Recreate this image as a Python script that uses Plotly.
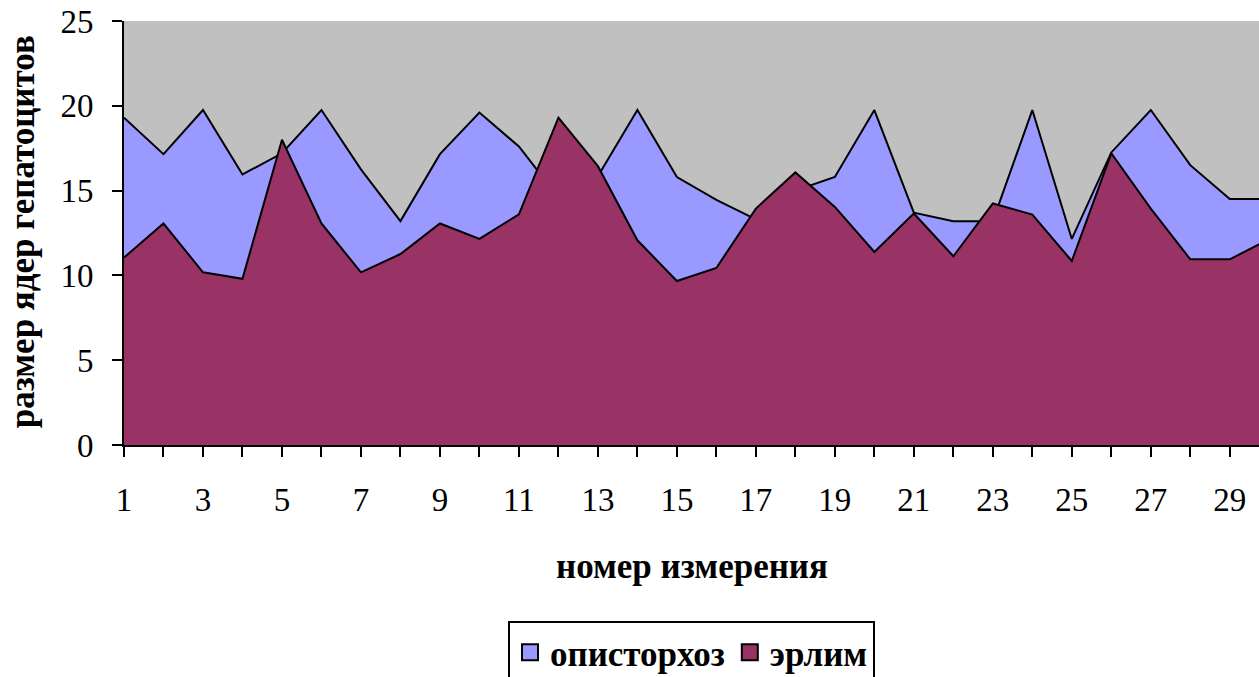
import plotly.graph_objects as go

# Measurement number (1..30) and nucleus size for the two groups
measurement = list(range(1, 31))
opisthorchiasis = [19.3, 17.15, 19.75, 15.95, 17.2, 19.75, 16.25, 13.2, 17.15, 19.6,
                   17.6, 14.6, 15.85, 19.75, 15.8, 14.45, 13.3, 15.0, 15.8, 19.75,
                   13.7, 13.2, 13.2, 19.75, 12.15, 17.25, 19.75, 16.5, 14.5, 14.5]
erlim = [11.05, 13.06, 10.18, 9.8, 18.0, 13.06, 10.18, 11.26, 13.06, 12.15,
         13.6, 19.3, 16.44, 12.07, 9.67, 10.44, 13.94, 16.07, 14.04, 11.38,
         13.65, 11.13, 14.24, 13.59, 10.85, 17.2, 13.94, 10.95, 10.95, 12.13]

series_names = ["описторхоз", "эрлим"]
x_tick_text = [str(v) if v % 2 == 1 else "" for v in measurement]
y_ticks = [0, 5, 10, 15, 20, 25]

BLUE = "#9999FF"
PURPLE = "#993366"
FONT = "Times New Roman, Liberation Serif, serif"
TICK_SIZE = 33
TITLE_SIZE = 35

fig = go.Figure()

# Overlapping (non-stacked) areas: blue behind, purple in front
for values, color in ((opisthorchiasis, BLUE), (erlim, PURPLE)):
    fig.add_trace(go.Scatter(
        x=measurement, y=values, mode="lines", fill="tozeroy",
        fillcolor=color, line=dict(color="black", width=2),
        showlegend=False, hoverinfo="x+y",
    ))

# Legend entries shown as square swatches
for name, color in zip(series_names, (BLUE, PURPLE)):
    fig.add_trace(go.Scatter(
        x=[None], y=[None], mode="markers", name=name,
        marker=dict(symbol="square", size=16, color=color,
                    line=dict(color="black", width=2)),
    ))

fig.update_layout(
    width=1259, height=677,
    margin=dict(l=124, r=0, t=21, b=232, autoexpand=False),
    paper_bgcolor="white", plot_bgcolor="#C0C0C0",
    font=dict(family=FONT, color="black", size=TICK_SIZE),
    showlegend=True,
    legend=dict(
        orientation="h", x=0.5, xanchor="center",
        yref="container", y=0.0827, yanchor="top",
        bordercolor="black", borderwidth=2, bgcolor="white",
        font=dict(family=FONT, size=TITLE_SIZE, weight="bold"),
        itemwidth=30, tracegroupgap=0,
    ),
    xaxis=dict(
        range=[1, 29.74], tickmode="array", tickvals=measurement, ticktext=x_tick_text,
        showgrid=False, zeroline=False, showline=True, linecolor="black", linewidth=2,
        ticks="outside", ticklen=10, tickwidth=2, tickcolor="black",
        ticklabelstandoff=14, tickfont=dict(size=TICK_SIZE), automargin=False,
    ),
    yaxis=dict(
        range=[0, 25], tickmode="array", tickvals=y_ticks,
        showgrid=False, zeroline=False, showline=True, linecolor="black", linewidth=2,
        ticks="outside", ticklen=10, tickwidth=2, tickcolor="black",
        ticklabelstandoff=12, tickfont=dict(size=TICK_SIZE), automargin=False,
    ),
    annotations=[
        dict(text="номер измерения", xref="paper", yref="paper",
             x=0.5, y=-0.287, xanchor="center", yanchor="middle", showarrow=False,
             font=dict(family=FONT, size=TITLE_SIZE, weight="bold")),
        dict(text="размер ядер гепатоцитов", xref="paper", yref="paper",
             x=-0.0899, y=0.504, xanchor="center", yanchor="middle", showarrow=False,
             textangle=-90, font=dict(family=FONT, size=TITLE_SIZE, weight="bold")),
    ],
)

fig.write_html("out.html")
